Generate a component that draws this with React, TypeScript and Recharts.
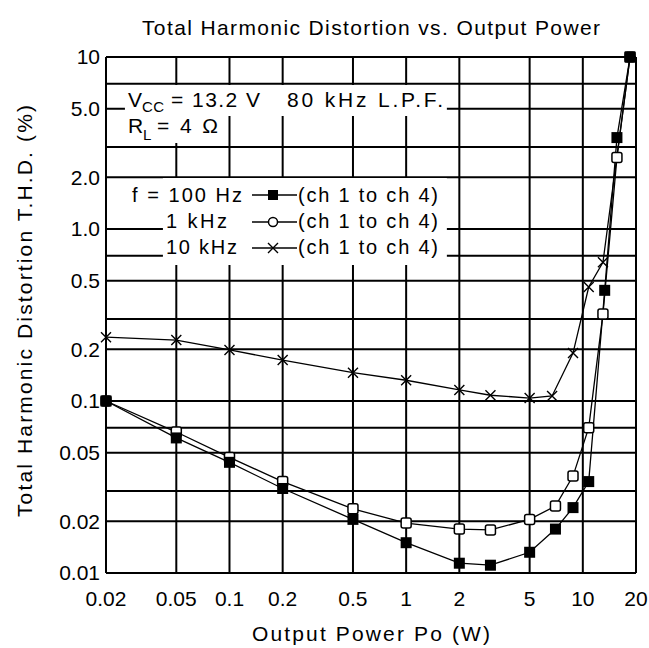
import { CartesianGrid, Line, LineChart, ReferenceArea, XAxis, YAxis } from 'recharts';

const FONT = "'Liberation Sans', Arial, Helvetica, sans-serif";

// axis ticks
const xTicks = [0.02, 0.05, 0.1, 0.2, 0.5, 1, 2, 5, 10, 20];
const yTicks = [0.01, 0.02, 0.05, 0.1, 0.2, 0.5, 1, 2, 5, 10];
const yTickLabels = ['0.01', '0.02', '0.05', '0.1', '0.2', '0.5', '1.0', '2.0', '5.0', '10'];
const yGrid = [
  0.01, 0.02, 0.03, 0.04, 0.05, 0.06, 0.07, 0.08, 0.09,
  0.1, 0.2, 0.3, 0.4, 0.5, 0.6, 0.7, 0.8, 0.9,
  1, 2, 3, 4, 5, 6, 7, 8, 9, 10,
];

// f = 100 Hz
const po100Hz = [0.02, 0.05, 0.1, 0.2, 0.5, 1, 2, 3, 5, 7, 8.8, 10.8, 13.3, 15.6, 18.5];
const thd100Hz = [0.1, 0.061, 0.044, 0.031, 0.0205, 0.015, 0.0114, 0.0111, 0.0132, 0.018, 0.024, 0.034, 0.44, 3.4, 10];

// f = 1 kHz
const po1kHz = [0.02, 0.05, 0.1, 0.2, 0.5, 1, 2, 3, 5, 7, 8.8, 10.8, 13, 15.6, 18.5];
const thd1kHz = [0.1, 0.066, 0.047, 0.034, 0.0236, 0.0195, 0.018, 0.0178, 0.0205, 0.0245, 0.0366, 0.07, 0.32, 2.6, 10];

// f = 10 kHz
const po10kHz = [0.02, 0.05, 0.1, 0.2, 0.5, 1, 2, 3, 5, 6.7, 8.8, 10.8, 13, 18.5];
const thd10kHz = [0.235, 0.226, 0.198, 0.173, 0.146, 0.132, 0.116, 0.108, 0.104, 0.107, 0.19, 0.46, 0.64, 10];

const toPoints = (xs: number[], ys: number[]) => xs.map((x, i) => ({ x, y: ys[i] }));

const FilledSquare = (props: any) => {
  const { cx, cy, index } = props;
  if (cx == null || cy == null) return null;
  return <rect key={`f-${index}`} x={cx - 5.5} y={cy - 5.5} width={11} height={11} fill="#000" />;
};

const OpenSquare = (props: any) => {
  const { cx, cy, index } = props;
  if (cx == null || cy == null) return null;
  return (
    <rect key={`o-${index}`} x={cx - 5} y={cy - 5} width={10} height={10} rx={2}
      fill="#fff" stroke="#000" strokeWidth={1.5} />
  );
};

const Cross = (props: any) => {
  const { cx, cy, index } = props;
  if (cx == null || cy == null) return null;
  return (
    <path key={`x-${index}`} d={`M${cx - 5},${cy - 5}L${cx + 5},${cy + 5}M${cx - 5},${cy + 5}L${cx + 5},${cy - 5}`}
      stroke="#000" strokeWidth={1.4} fill="none" />
  );
};

const txt = { fontFamily: FONT, fill: '#000' };

const App = () => {
  return (
    <div style={{ position: 'absolute', left: 0, top: 0, width: 649, height: 648, background: '#fff' }}>
      <LineChart width={649} height={648} margin={{ top: 57, right: 13, left: 0, bottom: 0 }}>
        <CartesianGrid stroke="#000" strokeWidth={2} horizontalValues={yGrid} verticalValues={xTicks} />
        <XAxis
          type="number"
          dataKey="x"
          scale="log"
          domain={[0.02, 20]}
          ticks={xTicks}
          height={75}
          tickLine={false}
          tickSize={0}
          tickMargin={18}
          axisLine={{ stroke: '#000', strokeWidth: 2 }}
          tick={{ fill: '#000', fontSize: 21, fontFamily: FONT }}
          tickFormatter={(v: number) => String(v)}
          allowDuplicatedCategory={false}
        />
        <YAxis
          type="number"
          dataKey="y"
          scale="log"
          domain={[0.01, 10]}
          ticks={yTicks}
          width={106}
          tickLine={false}
          tickSize={0}
          tickMargin={6}
          axisLine={{ stroke: '#000', strokeWidth: 2 }}
          tick={{ fill: '#000', fontSize: 21, fontFamily: FONT }}
          tickFormatter={(v: number) => yTickLabels[yTicks.indexOf(v)] ?? String(v)}
        />
        <ReferenceArea x1={0.0256} x2={1.7} y1={4.54} y2={6.87} fill="#fff" fillOpacity={1} stroke="none" ifOverflow="visible" />
        <ReferenceArea x1={0.0256} x2={0.0919} y1={3.16} y2={4.54} fill="#fff" fillOpacity={1} stroke="none" ifOverflow="visible" />
        <ReferenceArea x1={0.042} x2={1.7} y1={0.617} y2={1.98} fill="#fff" fillOpacity={1} stroke="none" ifOverflow="visible" />
        <Line data={toPoints(po10kHz, thd10kHz)} dataKey="y" stroke="#000" strokeWidth={1.3}
          dot={Cross} activeDot={false} isAnimationActive={false} />
        <Line data={toPoints(po1kHz, thd1kHz)} dataKey="y" stroke="#000" strokeWidth={1.3}
          dot={OpenSquare} activeDot={false} isAnimationActive={false} />
        <Line data={toPoints(po100Hz, thd100Hz)} dataKey="y" stroke="#000" strokeWidth={1.3}
          dot={FilledSquare} activeDot={false} isAnimationActive={false} />
      </LineChart>

      <svg width={649} height={648} style={{ position: 'absolute', left: 0, top: 0, pointerEvents: 'none' }}>
        <text {...txt} x={142} y={35} fontSize={21} textLength={458} lengthAdjust="spacing">
          Total Harmonic Distortion vs. Output Power
        </text>
        <text {...txt} x={252} y={641} fontSize={21} textLength={238} lengthAdjust="spacing">
          Output Power  Po  (W)
        </text>
        <text {...txt} transform="translate(32,517) rotate(-90)" x={0} y={0} fontSize={21} textLength={412} lengthAdjust="spacing">
          Total Harmonic Distortion  T.H.D.  (%)
        </text>

        {/* conditions */}
        <text {...txt} x={128} y={107} fontSize={21}>V</text>
        <text {...txt} x={142} y={112} fontSize={15} letterSpacing={0.5}>CC</text>
        <text {...txt} x={171} y={107} fontSize={21} textLength={89} lengthAdjust="spacing">= 13.2 V</text>
        <text {...txt} x={287} y={107} fontSize={21} textLength={156} lengthAdjust="spacing">80 kHz L.P.F.</text>
        <text {...txt} x={128} y={133} fontSize={21}>R</text>
        <text {...txt} x={143} y={140} fontSize={15}>L</text>
        <text {...txt} x={157} y={133} fontSize={21} textLength={61} lengthAdjust="spacing">= 4 Ω</text>

        {/* legend */}
        <text {...txt} x={132} y={202} fontSize={20} textLength={110} lengthAdjust="spacing">f = 100 Hz</text>
        <line x1={252} x2={297} y1={195} y2={195} stroke="#000" strokeWidth={1.5} />
        <rect x={268} y={190} width={10} height={10} fill="#000" />
        <text {...txt} x={298} y={202} fontSize={20} textLength={140} lengthAdjust="spacing">(ch 1 to ch 4)</text>

        <text {...txt} x={166} y={228} fontSize={20} textLength={61} lengthAdjust="spacing">1 kHz</text>
        <line x1={252} x2={297} y1={222} y2={222} stroke="#000" strokeWidth={1.5} />
        <circle cx={273} cy={222} r={4.5} fill="#fff" stroke="#000" strokeWidth={1.5} />
        <text {...txt} x={298} y={228} fontSize={20} textLength={140} lengthAdjust="spacing">(ch 1 to ch 4)</text>

        <text {...txt} x={166} y={254} fontSize={20} textLength={71} lengthAdjust="spacing">10 kHz</text>
        <line x1={252} x2={297} y1={248} y2={248} stroke="#000" strokeWidth={1.5} />
        <path d="M268,243L278,253M268,253L278,243" stroke="#000" strokeWidth={1.4} fill="#fff" />
        <text {...txt} x={298} y={254} fontSize={20} textLength={140} lengthAdjust="spacing">(ch 1 to ch 4)</text>
      </svg>
    </div>
  );
};

export default App;
